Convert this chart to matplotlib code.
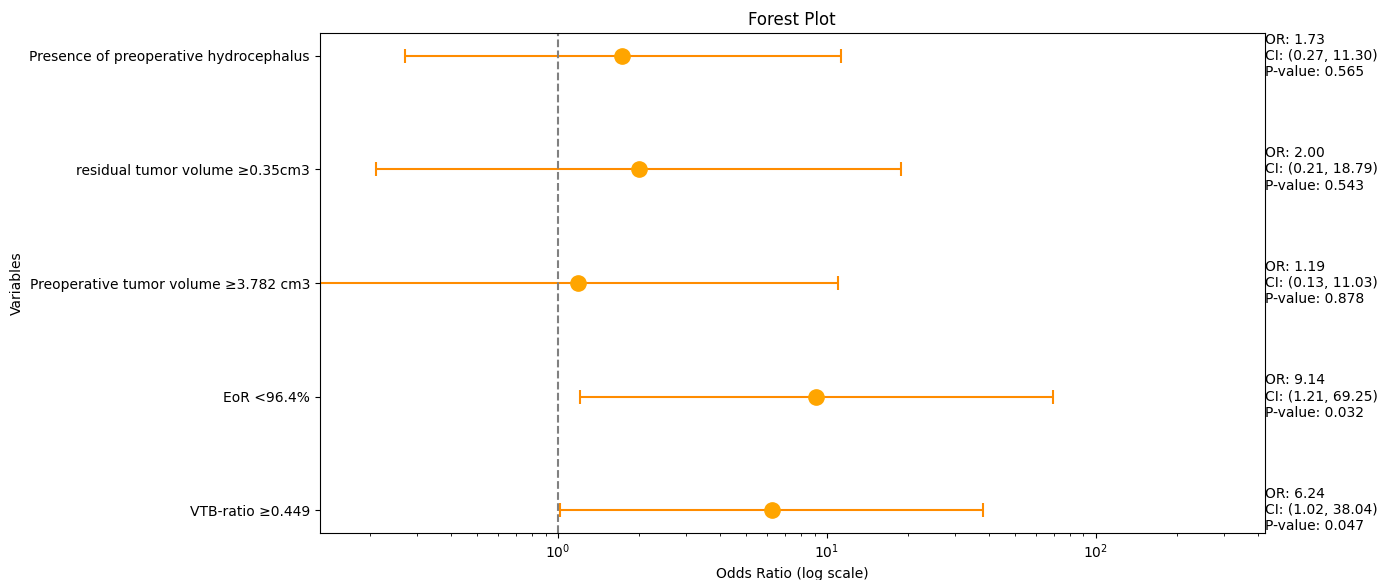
import matplotlib
matplotlib.use("Agg")
import matplotlib.pyplot as plt

variables = ["VTB-ratio \u22650.449", "EoR <96.4%", "Preoperative tumor volume \u22653.782 cm3",
             "residual tumor volume \u22650.35cm3", "Presence of preoperative hydrocephalus"]
odds_ratio = [6.24, 9.14, 1.19, 2.00, 1.73]
ci_low = [1.02, 1.21, 0.13, 0.21, 0.27]
ci_high = [38.04, 69.25, 11.03, 18.79, 11.30]
p_values = ["0.047", "0.032", "0.878", "0.543", "0.565"]

fig = plt.figure(figsize=(13.96, 5.8), dpi=100)
ax = fig.add_axes([0.229, 0.081, 0.677, 0.862])

ypos = list(range(len(variables)))
xerr = [[o - l for o, l in zip(odds_ratio, ci_low)], [h - o for o, h in zip(odds_ratio, ci_high)]]
ax.errorbar(odds_ratio, ypos, xerr=xerr, fmt='o', color='orange', ecolor='darkorange',
            markersize=11, capsize=5, elinewidth=1.5, capthick=1.5)
ax.axvline(1, color='gray', linestyle='--', linewidth=1.5)
ax.set_xscale('log')
ax.set_xlim(0.13, 425)
ax.set_yticks(ypos)
ax.set_yticklabels(variables)
ax.set_xlabel("Odds Ratio (log scale)")
ax.set_ylabel("Variables")
ax.set_title("Forest Plot")

xmax = ax.get_xlim()[1]
for y, o, l, h, p in zip(ypos, odds_ratio, ci_low, ci_high, p_values):
    ax.text(xmax, y, f"OR: {o:.2f}\nCI: ({l:.2f}, {h:.2f})\nP-value: {p}", va='center', ha='left', fontsize=10)

fig.savefig("out.png", dpi=100)
